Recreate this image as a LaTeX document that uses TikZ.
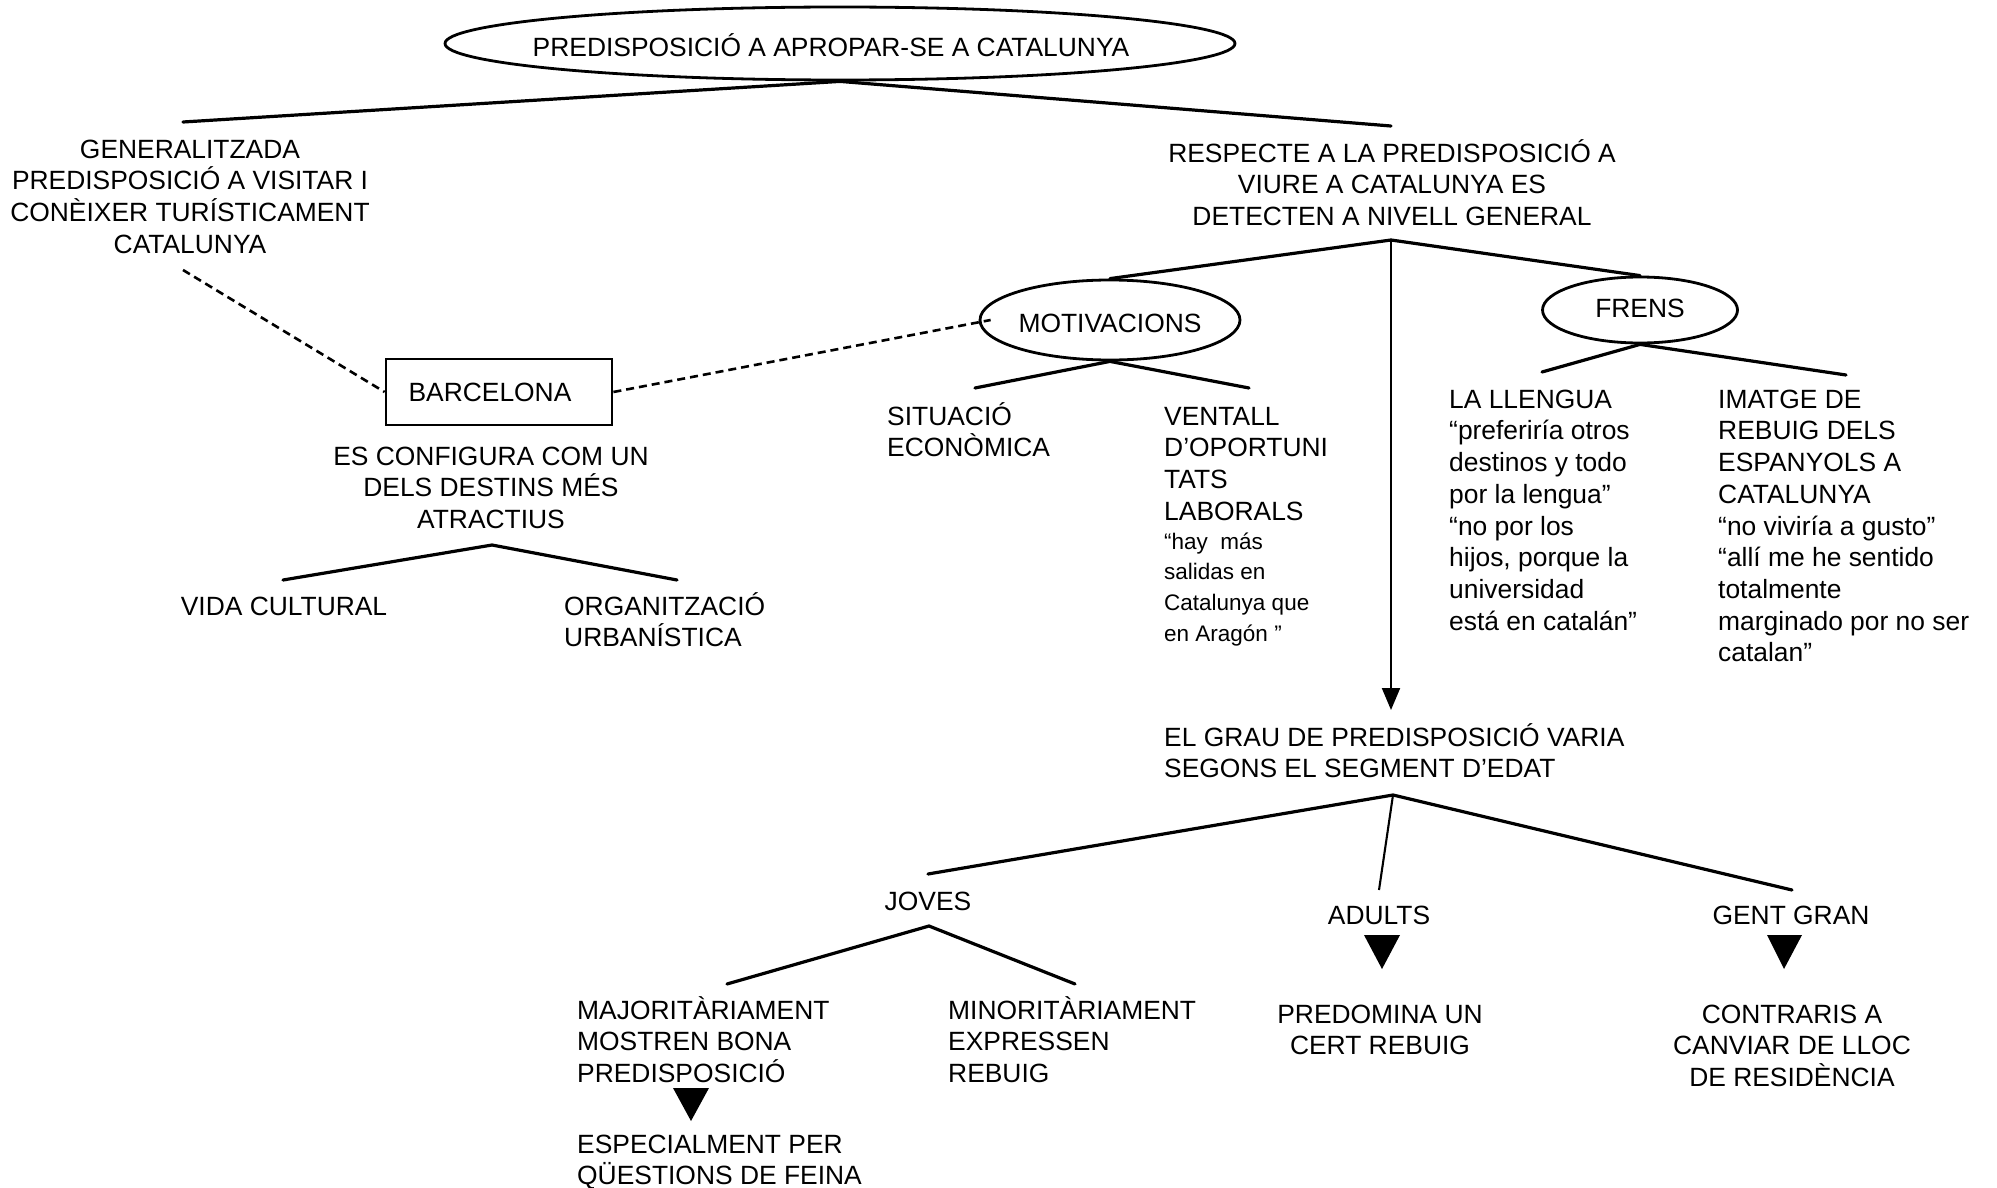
\documentclass[tikz,border=0pt]{standalone}
\usepackage{fontspec}
\setmainfont{Liberation Sans}
\usetikzlibrary{arrows.meta,shapes.geometric}
\newcommand\sr{\rule{0pt}{25pt}}
\begin{document}
\begin{tikzpicture}[x=1pt,y=-1pt,
  txt/.style={inner sep=0pt, font=\fontsize{26.4}{31.7}\selectfont},
  ctxt/.style={txt, anchor=north, align=center},
  ltxt/.style={txt, anchor=north west, align=left},
  qtxt/.style={inner sep=0pt, anchor=north west, align=left, font=\fontsize{22.5}{30.7}\selectfont},
  conn/.style={line width=3.2pt, line cap=round},
  thinconn/.style={line width=2.1pt},
  dashline/.style={line width=2.6pt, dash pattern=on 8pt off 5pt},
  oval/.style={ellipse, draw, line width=2.8pt, inner sep=0pt, font=\fontsize{26.4}{31.7}\selectfont}
]
\useasboundingbox[fill=white] (0,0) rectangle (1997,1188);

% ---- ellipses and box
\node[oval, minimum width=790pt, minimum height=73pt, text height=27pt, text depth=0pt] (top) at (840,43.5) {\makebox[0pt]{\kern-18pt PREDISPOSICIÓ A APROPAR-SE A CATALUNYA}};
\node[oval, minimum width=260pt, minimum height=80pt, text height=24pt, text depth=0pt] (motiv) at (1110,320) {\makebox[0pt]{MOTIVACIONS}};
\node[oval, minimum width=195pt, minimum height=66pt, text height=19pt, text depth=5pt] (frens) at (1640,310) {\makebox[0pt]{FRENS}};
\node[draw, line width=2.8pt, rectangle, minimum width=226pt, minimum height=66pt, inner sep=0pt, text height=19pt, text depth=0pt, font=\fontsize{26.4}{31.7}\selectfont] (bcn) at (499,392) {\makebox[0pt]{\kern-18pt BARCELONA}};

% ---- texts
\node[ctxt] (gen) at (190,133) {\sr GENERALITZADA\\PREDISPOSICIÓ A VISITAR I\\CONÈIXER TURÍSTICAMENT\\CATALUNYA};
\node[ctxt] (esconf) at (491,440) {\sr ES CONFIGURA COM UN\\DELS DESTINS MÉS\\ATRACTIUS};
\node[ctxt] (vida) at (284,590) {\sr VIDA CULTURAL};
\node[ltxt] (organ) at (564,590) {\sr ORGANITZACIÓ\\URBANÍSTICA};
\node[ctxt] (resp) at (1392,137) {\sr RESPECTE A LA PREDISPOSICIÓ A\\VIURE A CATALUNYA ES\\DETECTEN A NIVELL GENERAL};
\node[ltxt] (sit) at (887,400) {\sr SITUACIÓ\\ECONÒMICA};
\node[ltxt] (ventall) at (1164,400) {\sr VENTALL\\D’OPORTUNI\\TATS\\LABORALS};
\node[qtxt] (ventallq) at (1164,524) {\sr “hay\ \ más\\salidas en\\Catalunya que\\en Aragón ”};
\node[ltxt] (llengua) at (1449,383) {\sr LA LLENGUA\\“preferiría otros\\destinos y todo\\por la lengua”\\“no por los\\hijos, porque la\\universidad\\está en catalán”};
\node[ltxt] (imatge) at (1718,383) {\sr IMATGE DE\\REBUIG DELS\\ESPANYOLS A\\CATALUNYA\\“no viviría a gusto”\\“allí me he sentido\\totalmente\\marginado por no ser\\catalan”};
\node[ltxt] (grau) at (1164,721) {\sr EL GRAU DE PREDISPOSICIÓ VARIA\\SEGONS EL SEGMENT D’EDAT};
\node[ctxt] (joves) at (928,885) {\sr JOVES};
\node[ctxt] (adults) at (1379,899) {\sr ADULTS};
\node[ctxt] (gentgran) at (1791,899) {\sr GENT GRAN};
\node[ltxt] (major) at (577,994) {\sr MAJORITÀRIAMENT\\MOSTREN BONA\\PREDISPOSICIÓ};
\node[ltxt] (minor) at (948,994) {\sr MINORITÀRIAMENT\\EXPRESSEN\\REBUIG};
\node[ltxt] (espec) at (577,1128) {\sr ESPECIALMENT PER\\QÜESTIONS DE FEINA};
\node[ctxt] (predomina) at (1380,998) {\sr PREDOMINA UN\\CERT REBUIG};
\node[ctxt] (contraris) at (1792,998) {\sr CONTRARIS A\\CANVIAR DE LLOC\\DE RESIDÈNCIA};

% ---- connector end points
\coordinate (genL) at (183,122);
\coordinate (respT) at (1391,126);
\coordinate (genB) at (183,270);
\coordinate (respA) at (1391,240);
\coordinate (grauT) at (1391,710);
\coordinate (motL) at (975,388);
\coordinate (motR) at (1249,388);
\coordinate (frL) at (1542,372);
\coordinate (frR) at (1846,375);
\coordinate (bcA) at (492,545);
\coordinate (bcL) at (283,580);
\coordinate (bcR) at (677,580);
\coordinate (grA) at (1393,795);
\coordinate (jovT) at (928,874);
\coordinate (adT) at (1379,890);
\coordinate (ggT) at (1792,890);
\coordinate (joA) at (929,926);
\coordinate (joL) at (727,984);
\coordinate (joR) at (1075,984);

% ---- connectors
\draw[conn] (genL) -- (top.south) -- (respT);
\draw[dashline] (genB) -- (bcn.west);
\draw[dashline] (bcn.east) -- ([xshift=12pt]motiv.west);
\draw[conn] (motiv.north) -- (respA) -- (frens.north);
\draw[thinconn, -{Triangle[length=22pt,width=18pt]}] (respA) -- (grauT);
\draw[conn] (motL) -- (motiv.south) -- (motR);
\draw[conn] (frL) -- (frens.south) -- (frR);
\draw[conn] (bcL) -- (bcA) -- (bcR);
\draw[conn] (jovT) -- (grA) -- (ggT);
\draw[thinconn] (grA) -- (adT);
\draw[conn] (joL) -- (joA) -- (joR);

% ---- filled triangles
\fill (1364,935) -- (1400,935) -- (1382,969) -- cycle;
\fill (1767,935) -- (1802,935) -- (1784,969) -- cycle;
\fill (673,1088) -- (709,1088) -- (691,1121) -- cycle;
\end{tikzpicture}
\end{document}
